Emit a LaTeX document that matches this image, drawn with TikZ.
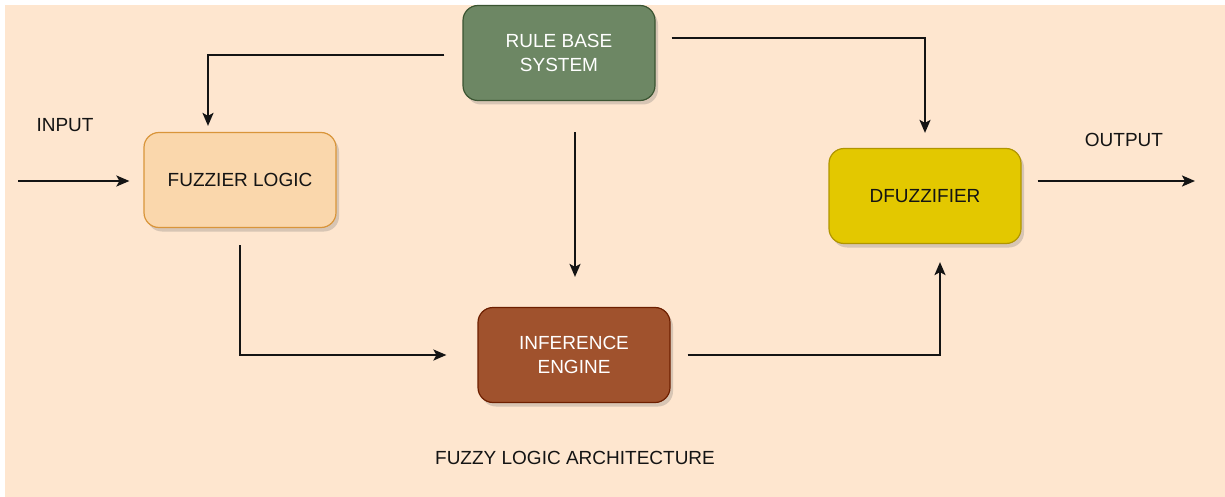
\documentclass[tikz,border=0pt]{standalone}
\usepackage{fontspec}
\setmainfont{Liberation Sans}
\usetikzlibrary{arrows.meta,calc,shadows}

\definecolor{paper}{HTML}{FEE6CF}
\definecolor{greenfill}{HTML}{6D8764}
\definecolor{greenline}{HTML}{3A5431}
\definecolor{orangefill}{HTML}{FAD7AC}
\definecolor{orangeline}{HTML}{D9953A}
\definecolor{yellowfill}{HTML}{E3C800}
\definecolor{yellowline}{HTML}{B09500}
\definecolor{brownfill}{HTML}{A0522D}
\definecolor{brownline}{HTML}{6D1F00}
\definecolor{ink}{HTML}{141414}

\tikzset{
  block/.style={rounded corners=15pt, minimum width=192pt, minimum height=95pt,
    line width=1.2pt, align=center, inner sep=0pt,
    font=\fontsize{19}{24}\selectfont,
    drop shadow={shadow xshift=3pt, shadow yshift=-4pt, opacity=0.25, fill=black!60}},
  label/.style={font=\fontsize{19}{24}\selectfont, text=ink, inner sep=0pt},
  flow/.style={draw=ink, line width=2pt,
    -{Stealth[length=13pt, width=11pt, inset=3pt]}},
}

\begin{document}
\begin{tikzpicture}[x=1pt, y=-1pt]
  \useasboundingbox (0,0) rectangle (1225,497);
  \fill[white] (0,0) rectangle (1225,497);
  \fill[paper] (5,5) rectangle (1225,497);

  % processing blocks
  \node[block, fill=greenfill, draw=greenline, text=white] (rule) at (559,53) {RULE BASE\\SYSTEM};
  \node[block, fill=orangefill, draw=orangeline, text=ink] (fuzz) at (240,180) {FUZZIER LOGIC};
  \node[block, fill=yellowfill, draw=yellowline, text=ink] (defuzz) at (925,196) {DFUZZIFIER};
  \node[block, fill=brownfill, draw=brownline, text=white] (infer) at (574,355) {INFERENCE\\ENGINE};

  % free labels
  \node[label] (inlbl) at (65,125) {INPUT};
  \node[label] (outlbl) at (1124,140) {OUTPUT};
  \node[label] (caption) at (575,458) {FUZZY LOGIC ARCHITECTURE};

  % outer ends of the input and output lines
  \coordinate (instart) at (18,181);
  \coordinate (outend) at (1195,181);

  % connectors
  \draw[flow] (instart) -- ($(fuzz.west)+(-14,1)$);
  \draw[flow] ($(rule.west)+(-18,2)$) -| ($(fuzz.north)+(-32,-6)$);
  \draw[flow] ($(rule.east)+(16,-15)$) -| ($(defuzz.north)+(0,-15)$);
  \draw[flow] ($(rule.south)+(16,31)$) -- ($(infer.north)+(1,-30)$);
  \draw[flow] ($(fuzz.south)+(0,17)$) |- ($(infer.west)+(-31,0)$);
  \draw[flow] ($(infer.east)+(17,0)$) -| ($(defuzz.south)+(15,18)$);
  \draw[flow] ($(defuzz.east)+(16,-15)$) -- (outend);
\end{tikzpicture}
\end{document}
